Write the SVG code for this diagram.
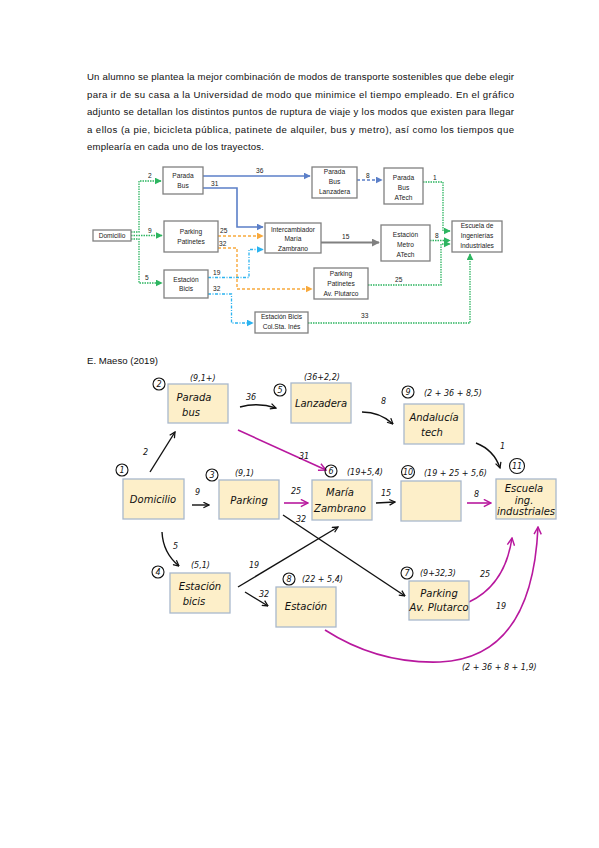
<svg xmlns="http://www.w3.org/2000/svg" width="599" height="848" viewBox="0 0 599 848">
<style>
.para{font-family:"Liberation Sans",Arial,sans-serif;font-size:9.6px;fill:#111}
.nb{fill:#fff;stroke:#808080;stroke-width:1.3}
.nt{font-family:"Liberation Sans",Arial,sans-serif;font-size:6.6px;fill:#222;text-anchor:middle}
.lb{font-family:"Liberation Sans",Arial,sans-serif;font-size:6.6px;fill:#222}
.g{fill:none;stroke:#2DB560;stroke-width:1.3;stroke-dasharray:1.5,1}
.bl{fill:none;stroke:#5B7FC8;stroke-width:1.6}
.bld{fill:none;stroke:#5B7FC8;stroke-width:1.4;stroke-dasharray:3,2}
.gr{fill:none;stroke:#808080;stroke-width:2}
.or{fill:none;stroke:#F8A93C;stroke-width:1.4;stroke-dasharray:3,2}
.cy{fill:none;stroke:#2BB3F0;stroke-width:1.3;stroke-dasharray:3,1.5,1,1.5}
.hb{fill:#FDEFC9;stroke:#A9B8CC;stroke-width:1.3}
.ht{font-family:"DejaVu Sans",sans-serif;font-style:italic;font-size:10px;fill:#111;text-anchor:middle}
.hs{font-family:"DejaVu Sans",sans-serif;font-style:italic;font-size:8px;fill:#111}
.hc{fill:none;stroke:#111;stroke-width:1.1}
.hl{fill:none;stroke:#111;stroke-width:1.4}
.mg{fill:none;stroke:#B8189E;stroke-width:1.6}
</style>
<defs>
<marker id="ag" viewBox="0 0 10 10" refX="9" refY="5" markerWidth="7" markerHeight="7" markerUnits="userSpaceOnUse" orient="auto"><path d="M0,0L10,5L0,10z" fill="#2DB560"/></marker>
<marker id="ab" viewBox="0 0 10 10" refX="9" refY="5" markerWidth="7" markerHeight="7" markerUnits="userSpaceOnUse" orient="auto"><path d="M0,0L10,5L0,10z" fill="#5B7FC8"/></marker>
<marker id="agr" viewBox="0 0 10 10" refX="9" refY="5" markerWidth="8" markerHeight="8" markerUnits="userSpaceOnUse" orient="auto"><path d="M0,0L10,5L0,10z" fill="#808080"/></marker>
<marker id="ao" viewBox="0 0 10 10" refX="9" refY="5" markerWidth="7" markerHeight="7" markerUnits="userSpaceOnUse" orient="auto"><path d="M0,0L10,5L0,10z" fill="#F8A93C"/></marker>
<marker id="ac" viewBox="0 0 10 10" refX="9" refY="5" markerWidth="7" markerHeight="7" markerUnits="userSpaceOnUse" orient="auto"><path d="M0,0L10,5L0,10z" fill="#2BB3F0"/></marker>
<marker id="ak" viewBox="0 0 10 10" refX="9" refY="5" markerWidth="7" markerHeight="7" markerUnits="userSpaceOnUse" orient="auto"><path d="M1,1L9,5L1,9" fill="none" stroke="#111" stroke-width="1.8"/></marker>
<marker id="am" viewBox="0 0 10 10" refX="9" refY="5" markerWidth="9" markerHeight="9" markerUnits="userSpaceOnUse" orient="auto"><path d="M1,1L9,5L1,9" fill="none" stroke="#B8189E" stroke-width="1.6"/></marker>
</defs>
<rect width="599" height="848" fill="#fff"/>

<g id="intro">
<text class="para" x="87" y="80" textLength="427" lengthAdjust="spacing">Un alumno se plantea la mejor combinación de modos de transporte sostenibles que debe elegir</text>
<text class="para" x="87" y="97.5" textLength="427" lengthAdjust="spacing">para ir de su casa a la Universidad de modo que minimice el tiempo empleado. En el gráfico</text>
<text class="para" x="87" y="115" textLength="427" lengthAdjust="spacing">adjunto se detallan los distintos puntos de ruptura de viaje y los modos que existen para llegar</text>
<text class="para" x="87" y="132.5" textLength="427" lengthAdjust="spacing">a ellos (a pie, bicicleta pública, patinete de alquiler, bus y metro), así como los tiempos que</text>
<text class="para" x="87" y="150" textLength="177" lengthAdjust="spacing">emplearía en cada uno de los trayectos.</text>
</g>

<g id="connectors-top">
<polyline class="g" points="131,232 139,232 139,181 161,181" marker-end="url(#ag)"/>
<text class="lb" x="148" y="178">2</text>
<polyline class="g" points="131,235.5 162,235.5" marker-end="url(#ag)"/>
<text class="lb" x="148" y="233">9</text>
<polyline class="g" points="131,239 139,239 139,283 162,283" marker-end="url(#ag)"/>
<text class="lb" x="145" y="280">5</text>
<polyline class="bl" points="203,176 310,176" marker-end="url(#ab)"/>
<text class="lb" x="256" y="173">36</text>
<polyline class="bl" points="203,188 237,188 237,227 263,227" marker-end="url(#ab)"/>
<text class="lb" x="211" y="186">31</text>
<polyline class="bld" points="357,180 382,180" marker-end="url(#ab)"/>
<text class="lb" x="366" y="178">8</text>
<polyline class="g" points="423,182 443,182 443,231 450,231" marker-end="url(#ag)"/>
<text class="lb" x="433" y="180">1</text>
<polyline class="gr" points="321,242.5 379,242.5" marker-end="url(#agr)"/>
<text class="lb" x="342" y="239">15</text>
<polyline class="g" points="430,240.5 450,240.5" marker-end="url(#ag)"/>
<text class="lb" x="435" y="238">8</text>
<polyline class="g" points="368,285 441,285 441,244 450,244" marker-end="url(#ag)"/>
<text class="lb" x="395" y="282">25</text>
<polyline class="g" points="308,323 470,323 470,254" marker-end="url(#ag)"/>
<text class="lb" x="361" y="318">33</text>
<polyline class="or" points="218,236 263,236" marker-end="url(#ao)"/>
<text class="lb" x="220" y="233">25</text>
<polyline class="or" points="218,248 237,248 237,289 312,289" marker-end="url(#ao)"/>
<text class="lb" x="219" y="246">32</text>
<polyline class="cy" points="208,277.5 249,277.5 249,249.5 263,249.5" marker-end="url(#ac)"/>
<text class="lb" x="213" y="275">19</text>
<polyline class="cy" points="208,294 231.5,294 231.5,323 253,323" marker-end="url(#ac)"/>
<text class="lb" x="213" y="291">32</text>
</g>

<g id="domicilio"><rect class="nb" x="93" y="230" width="38" height="11"/><text class="nt" x="112" y="238">Domicilio</text></g>
<g id="parada-bus"><rect class="nb" x="163" y="167" width="40" height="27"/><text class="nt" x="183" y="178">Parada</text><text class="nt" x="183" y="188">Bus</text></g>
<g id="parking-patinetes"><rect class="nb" x="164" y="221" width="54" height="31"/><text class="nt" x="191" y="234">Parking</text><text class="nt" x="191" y="244">Patinetes</text></g>
<g id="estacion-bicis"><rect class="nb" x="164" y="270" width="44" height="28"/><text class="nt" x="186" y="281.5">Estación</text><text class="nt" x="186" y="291">Bicis</text></g>
<g id="intercambiador"><rect class="nb" x="265" y="223" width="56" height="30"/><text class="nt" x="293" y="231.5">Intercambiador</text><text class="nt" x="293" y="241">María</text><text class="nt" x="293" y="250.5">Zambrano</text></g>
<g id="parada-lanzadera"><rect class="nb" x="312" y="167" width="45" height="31"/><text class="nt" x="334.5" y="174">Parada</text><text class="nt" x="334.5" y="184">Bus</text><text class="nt" x="334.5" y="194">Lanzadera</text></g>
<g id="parada-atech"><rect class="nb" x="384" y="168" width="39" height="36"/><text class="nt" x="403.5" y="179.5">Parada</text><text class="nt" x="403.5" y="189.5">Bus</text><text class="nt" x="403.5" y="199.5">ATech</text></g>
<g id="metro-atech"><rect class="nb" x="381" y="225" width="49" height="36"/><text class="nt" x="405.5" y="236.5">Estación</text><text class="nt" x="405.5" y="246.5">Metro</text><text class="nt" x="405.5" y="256.5">ATech</text></g>
<g id="escuela"><rect class="nb" x="452" y="221" width="50" height="31"/><text class="nt" x="477" y="228">Escuela de</text><text class="nt" x="477" y="238">Ingenierías</text><text class="nt" x="477" y="248">Industriales</text></g>
<g id="parking-plutarco"><rect class="nb" x="314" y="268" width="54" height="31"/><text class="nt" x="341" y="275.5">Parking</text><text class="nt" x="341" y="286">Patinetes</text><text class="nt" x="341" y="295.5">Av. Plutarco</text></g>
<g id="estacion-ines"><rect class="nb" x="255" y="312" width="53" height="21"/><text class="nt" x="281.5" y="319">Estación Bicis</text><text class="nt" x="281.5" y="329">Col.Sta. Inés</text></g>

<text x="87" y="364" font-family="Liberation Sans, Arial, sans-serif" font-size="9.6" fill="#111">E. Maeso (2019)</text>

<g id="connectors-hand">
<path class="hl" d="M240,407 Q258,402 276,408" marker-end="url(#ak)"/>
<text class="hs" x="246" y="400">36</text>
<path class="hl" d="M362,412 Q380,412 393,424" marker-end="url(#ak)"/>
<text class="hs" x="381" y="404">8</text>
<path class="hl" d="M476,443 Q494,450 500,468" marker-end="url(#ak)"/>
<text class="hs" x="500" y="449">1</text>
<path class="hl" d="M150,472 L175,432" marker-end="url(#ak)"/>
<text class="hs" x="143" y="455">2</text>
<path class="mg" d="M238,430 L326,470" marker-end="url(#am)"/>
<text class="hs" x="299" y="459">31</text>
<path class="hl" d="M192,505 L209,505" marker-end="url(#ak)"/>
<text class="hs" x="195" y="495">9</text>
<path class="mg" d="M284,503 L308,503" marker-end="url(#am)"/>
<text class="hs" x="291" y="494">25</text>
<path class="hl" d="M376,503 L395,502" marker-end="url(#ak)"/>
<text class="hs" x="381" y="496">15</text>
<path class="mg" d="M467,503 L491,503" marker-end="url(#am)"/>
<text class="hs" x="474" y="497">8</text>
<path class="hl" d="M283,515 L405,596" marker-end="url(#ak)"/>
<text class="hs" x="296" y="522">32</text>
<path class="hl" d="M238,587 L338,527" marker-end="url(#ak)"/>
<text class="hs" x="249" y="568">19</text>
<path class="hl" d="M245,592 L268,606" marker-end="url(#ak)"/>
<text class="hs" x="259" y="597">32</text>
<path class="hl" d="M162,532 Q163,553 179,566" marker-end="url(#ak)"/>
<text class="hs" x="173" y="549">5</text>
<path class="mg" d="M469,602 Q505,585 512,538" marker-end="url(#am)"/>
<text class="hs" x="480" y="577">25</text>
<path class="mg" d="M325,630 Q378,664 440,662 Q532,658 538,527" marker-end="url(#am)"/>
<text class="hs" x="496" y="609">19</text>
</g>

<g id="h1"><circle class="hc" cx="122" cy="470" r="6"/><text class="hs" x="122" y="473" text-anchor="middle">1</text><rect class="hb" x="123" y="479" width="61" height="40"/><text class="ht" x="153" y="503">Domicilio</text></g>
<g id="h2"><circle class="hc" cx="159" cy="384" r="6"/><text class="hs" x="159" y="387" text-anchor="middle">2</text><text class="hs" x="190" y="381" font-size="6">(9,1+)</text><rect class="hb" x="168" y="384" width="60" height="39"/><text class="ht" x="194" y="401">Parada</text><text class="ht" x="191" y="416">bus</text></g>
<g id="h5"><circle class="hc" cx="280" cy="390" r="6"/><text class="hs" x="280" y="393" text-anchor="middle">5</text><text class="hs" x="304" y="380">(36+2,2)</text><rect class="hb" x="291" y="383" width="60" height="40"/><text class="ht" x="321" y="407">Lanzadera</text></g>
<g id="h9"><circle class="hc" cx="408" cy="392" r="6"/><text class="hs" x="408" y="395" text-anchor="middle">9</text><text class="hs" x="424" y="396">(2 + 36 + 8,5)</text><rect class="hb" x="404" y="404" width="60" height="40"/><text class="ht" x="434" y="421">Andalucía</text><text class="ht" x="432" y="436">tech</text></g>
<g id="h3"><circle class="hc" cx="212" cy="475" r="6"/><text class="hs" x="212" y="478" text-anchor="middle">3</text><text class="hs" x="235" y="476">(9,1)</text><rect class="hb" x="219" y="480" width="60" height="39"/><text class="ht" x="249" y="504">Parking</text></g>
<g id="h6"><circle class="hc" cx="331" cy="471" r="6"/><text class="hs" x="331" y="474" text-anchor="middle">6</text><text class="hs" x="347" y="475" font-size="7">(19+5,4)</text><rect class="hb" x="312" y="480" width="60" height="40"/><text class="ht" x="340" y="496">María</text><text class="ht" x="340" y="512" font-size="9">Zambrano</text></g>
<g id="h10"><circle class="hc" cx="408" cy="472" r="6.5"/><text class="hs" x="408" y="475" text-anchor="middle" font-size="7">10</text><text class="hs" x="424" y="476">(19 + 25 + 5,6)</text><rect class="hb" x="401" y="481" width="60" height="40"/></g>
<g id="h11"><circle class="hc" cx="517" cy="466" r="7.5"/><text class="hs" x="517" y="469" text-anchor="middle">11</text><rect class="hb" x="496" y="479" width="60" height="40"/><text class="ht" x="524" y="492" font-size="9">Escuela</text><text class="ht" x="524" y="504" font-size="9">ing.</text><text class="ht" x="526" y="515" font-size="9">industriales</text></g>
<g id="h4"><circle class="hc" cx="158" cy="572" r="6"/><text class="hs" x="158" y="575" text-anchor="middle">4</text><text class="hs" x="191" y="568">(5,1)</text><rect class="hb" x="170" y="573" width="60" height="40"/><text class="ht" x="200" y="590">Estación</text><text class="ht" x="194" y="605">bicis</text></g>
<g id="h8"><circle class="hc" cx="289" cy="579" r="6"/><text class="hs" x="289" y="582" text-anchor="middle">8</text><text class="hs" x="302" y="582">(22 + 5,4)</text><rect class="hb" x="276" y="587" width="60" height="40"/><text class="ht" x="306" y="610">Estación</text></g>
<g id="h7"><circle class="hc" cx="407" cy="573" r="6"/><text class="hs" x="407" y="576" text-anchor="middle">7</text><text class="hs" x="420" y="576">(9+32,3)</text><rect class="hb" x="409" y="581" width="60" height="39"/><text class="ht" x="439" y="597">Parking</text><text class="ht" x="439" y="611" font-size="8.5">Av. Plutarco</text></g>
<text class="hs" x="462" y="670">(2 + 36 + 8 + 1,9)</text>
</svg>
